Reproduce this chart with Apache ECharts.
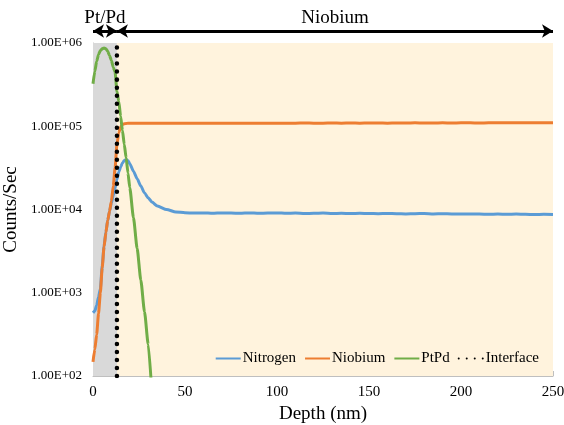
<!DOCTYPE html>
<html><head><meta charset="utf-8">
<script src="https://cdn.jsdelivr.net/npm/echarts@6/dist/echarts.min.js"></script>
<style>html,body{margin:0;padding:0;background:#fff}#c{width:564px;height:425px}</style>
</head><body><div id="c"></div>
<script>
// ---- data ----
const depth = [0,1,2,3,4,5,6,7,8,9,10,11,12,13,14,15,16,17,18,19,20,
  22,24,26,28,30,32,35,40,45,
  50,55,60,65,70,75,80,85,90,95,100,105,110,115,120,125,130,135,140,145,150,
  155,160,165,170,175,180,185,190,195,200,205,210,215,220,225,230,235,240,245,250];
const nitrogen = [575,603,708,891,1120,2090,3630,5370,7410,9550,12000,14800,18200,22900,28200,32400,36300,38900,39800,38900,35500,
  28800,23400,19100,15800,13800,12300,11000,10000,9330,
  9150,9050,9100,9000,9100,9050,9000,9100,9000,9050,9100,9000,9050,8950,9000,9050,8950,9000,8950,9000,8950,
  8900,8950,8900,8850,8900,8950,8850,8900,8850,8800,8850,8800,8750,8800,8750,8800,8750,8700,8750,8700];
const niobium = [148,209,316,562,1000,2000,3550,5250,7410,9550,12600,19100,31600,60300,83200,97700,105000,107000,108000,108500,108500,
  108500,109000,108500,108500,109000,108500,108500,109000,108500,
  108500,109000,108500,109000,108500,109000,109000,108500,109000,109000,108500,109000,109000,109500,109000,109000,109500,109000,109500,109000,109500,
  109500,109000,109500,109500,110000,109500,109500,110000,109500,110000,110000,109500,110000,110000,110500,110000,110000,110500,110000,110500];
const ptpd = [324000,457000,603000,724000,813000,851000,871000,851000,794000,708000,617000,513000,447000,263000,200000,132000,89100,60300,41700,27500,18200,
  7940,3390,1410,589,240,63,null,null,null];
const interfaceDepth = 13;
const interfaceRange = [100, 1000000];
const regions = [
  {name: 'Pt/Pd', from: 0, to: 13, color: '#D9D9D9'},
  {name: 'Niobium', from: 13, to: 250, color: '#FFF3DD'}
];
const seriesNames = ['Nitrogen', 'Niobium', 'PtPd', 'Interface'];
const seriesColors = ['#5B9BD5', '#ED7D31', '#70AD47', '#000000'];

// ---- chart ----
const FONT = 'Liberation Serif';
const pairs = arr => depth.map((d, i) => [d, i < arr.length ? arr[i] : null]);
const chart = echarts.init(document.getElementById('c'), null, {renderer: 'canvas'});
const gray = '#BFBFBF';
const lineSeries = (i, arr) => ({
  name: seriesNames[i], type: 'line', data: pairs(arr), symbol: 'none', showSymbol: false,
  smooth: 0.2, smoothMonotone: 'x',
  lineStyle: {color: seriesColors[i], width: 3}, itemStyle: {color: seriesColors[i]}
});
chart.setOption({
  animation: false,
  textStyle: {fontFamily: FONT},
  grid: [
    {left: 93, right: 11, top: 43, bottom: 49, containLabel: false, outerBoundsMode: 'none'},
    {left: 93, right: 11, top: 25, height: 12, containLabel: false, outerBoundsMode: 'none'}
  ],
  xAxis: [{
    type: 'value', gridIndex: 0, min: 0, max: 250, interval: 50,
    axisLine: {show: true, lineStyle: {color: gray, width: 1}},
    axisTick: {show: true, inside: true, length: 5, lineStyle: {color: gray}},
    minorTick: {show: true, splitNumber: 5, length: 4, lineStyle: {color: gray}},
    splitLine: {show: false},
    axisLabel: {fontFamily: FONT, fontSize: 15, color: '#000', margin: 9},
    name: 'Depth (nm)', nameLocation: 'middle', nameGap: 28,
    nameTextStyle: {fontFamily: FONT, fontSize: 19, color: '#000'}
  }, {
    type: 'value', gridIndex: 1, min: 0, max: 250, show: false
  }],
  yAxis: [{
    type: 'log', logBase: 10, gridIndex: 0, min: 100, max: 1000000,
    axisLine: {show: true, lineStyle: {color: gray, width: 1}},
    axisTick: {show: true, inside: true, length: 5, lineStyle: {color: gray}},
    splitLine: {show: false},
    axisLabel: {fontFamily: FONT, fontSize: 13, color: '#000', margin: 11,
      formatter: v => '1.00E+' + String(Math.round(Math.log10(v))).padStart(2, '0')},
    name: 'Counts/Sec', nameLocation: 'middle', nameGap: 64,
    nameTextStyle: {fontFamily: FONT, fontSize: 19, color: '#000'}
  }, {
    type: 'value', gridIndex: 1, min: 0, max: 1, show: false
  }],
  legend: {
    data: seriesNames, right: 20, top: 346, itemWidth: 25, itemHeight: 10, itemGap: 8,
    itemStyle: {opacity: 0},
    formatter: n => '{s|' + n + '}',
    textStyle: {fontFamily: FONT, fontSize: 15, color: '#000',
      rich: {s: {fontFamily: FONT, fontSize: 15, color: '#000', padding: [0, 0, 0, -3]}}}
  },
  series: [
    {
      name: 'bg', type: 'line', data: [], silent: true, z: 0,
      markArea: {
        silent: true,
        data: regions.map(r => [{xAxis: r.from, itemStyle: {color: r.color}}, {xAxis: r.to}])
      }
    },
    lineSeries(0, nitrogen),
    lineSeries(1, niobium),
    lineSeries(2, ptpd),
    {name: seriesNames[3], type: 'line', symbol: 'none', showSymbol: false,
      data: interfaceRange.map(v => [interfaceDepth, v]),
      lineStyle: {color: seriesColors[3], width: 4.5, type: [0.01, 8], cap: 'round'},
      itemStyle: {color: seriesColors[3]}},
    {
      name: 'arrows', type: 'line', xAxisIndex: 1, yAxisIndex: 1, data: [[0, -1]], symbol: 'none', silent: true,
      markLine: {
        silent: true, symbol: ['arrow', 'arrow'], symbolSize: [10, 11],
        lineStyle: {color: '#000', width: 3, type: 'solid'},
        label: {show: true, position: 'middle', distance: 3,
          formatter: p => '{t|' + p.name + '}',
          fontFamily: FONT, fontSize: 19, color: '#000',
          rich: {t: {fontFamily: FONT, fontSize: 19, color: '#000'}}},
        data: regions.map(r => [{name: r.name, coord: [r.from, 0.5]}, {coord: [r.to, 0.5]}])
      }
    }
  ]
});
</script></body></html>
